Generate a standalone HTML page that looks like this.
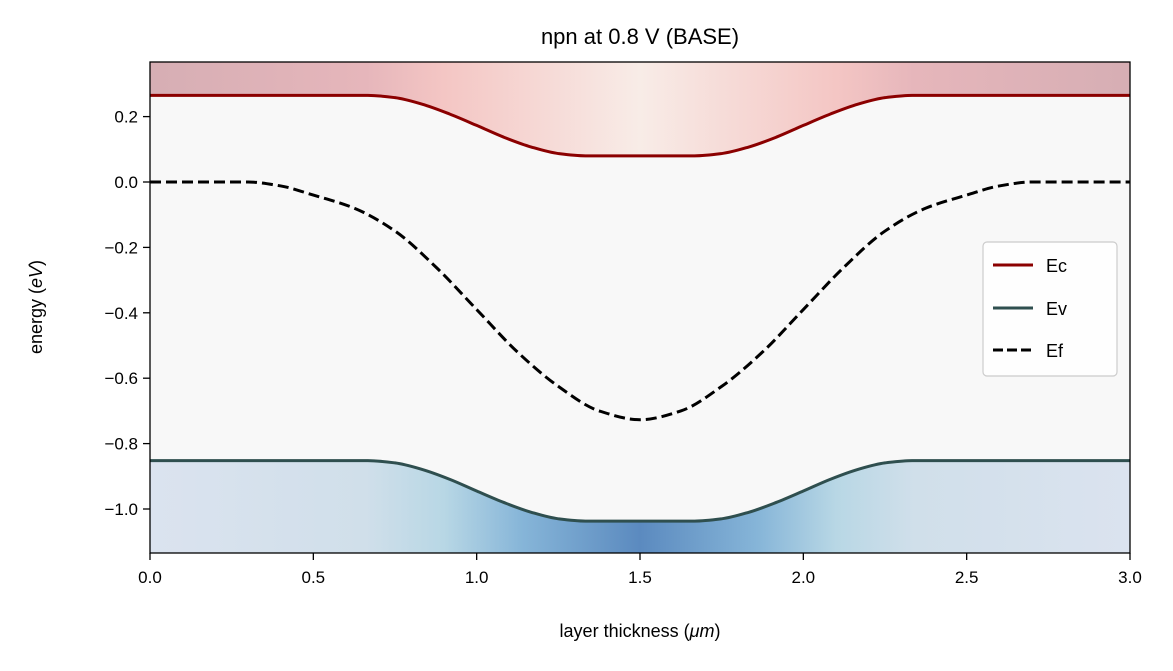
<!DOCTYPE html>
<html><head><meta charset="utf-8"><style>
body{margin:0;background:#fff;}
svg{font-family:"Liberation Sans","DejaVu Sans",sans-serif;}
</style></head><body>
<svg id="chart" width="1173" height="666" viewBox="0 0 1173 666">
<defs>
<linearGradient id="redg" x1="0" x2="1" y1="0" y2="0">
<stop offset="0" stop-color="#d6aeb4"/><stop offset="0.22" stop-color="#e6b6bb"/><stop offset="0.3" stop-color="#f4c6c4"/><stop offset="0.5" stop-color="#f8ece7"/><stop offset="0.7" stop-color="#f4c6c4"/><stop offset="0.78" stop-color="#e6b6bb"/><stop offset="1" stop-color="#d6aeb4"/>
</linearGradient>
<linearGradient id="blueg" x1="0" x2="1" y1="0" y2="0">
<stop offset="0" stop-color="#dbe3ef"/><stop offset="0.22" stop-color="#d0dfea"/><stop offset="0.3" stop-color="#b8d7e5"/><stop offset="0.38" stop-color="#86b5d8"/><stop offset="0.5" stop-color="#5b8abf"/><stop offset="0.62" stop-color="#86b5d8"/><stop offset="0.7" stop-color="#b8d7e5"/><stop offset="0.78" stop-color="#d0dfea"/><stop offset="1" stop-color="#dbe3ef"/>
</linearGradient>
<clipPath id="plotclip"><rect x="150" y="62" width="980" height="491"/></clipPath>
</defs>
<rect x="150" y="62" width="980" height="491" fill="#f8f8f8"/>
<g id="fills" clip-path="url(#plotclip)"></g>
<g id="lines" clip-path="url(#plotclip)"></g>
<rect x="150" y="62" width="980" height="491" fill="none" stroke="#000" stroke-width="1.3"/>
<g id="axes"></g>
<text x="640" y="44" text-anchor="middle" font-size="22">npn at 0.8 V (BASE)</text>
<text x="640" y="637" text-anchor="middle" font-size="18">layer thickness (<tspan font-style="italic">μm</tspan>)</text>
<text transform="translate(42,307) rotate(-90)" text-anchor="middle" font-size="18">energy (<tspan font-style="italic">eV</tspan>)</text>
<g>
<rect x="983" y="242" width="134" height="134" rx="4" fill="#fff" fill-opacity="0.85" stroke="#ccc" stroke-width="1.2"/>
<g><line x1="993" y1="265" x2="1033" y2="265" stroke="#8b0000" stroke-width="3"/><text x="1046" y="272" font-size="18">Ec</text></g>
<g><line x1="993" y1="308" x2="1033" y2="308" stroke="#2f4f4f" stroke-width="3"/><text x="1046" y="315" font-size="18">Ev</text></g>
<g><line x1="993" y1="350" x2="1033" y2="350" stroke="#000" stroke-width="3" stroke-dasharray="10,4"/><text x="1046" y="357" font-size="18">Ef</text></g>
</g>
</svg>
<script>
const bandX=[0,0.5,0.583,0.667,0.75,0.833,0.917,1.0,1.083,1.167,1.25,1.333,1.417,1.5,1.583,1.667,1.75,1.833,1.917,2.0,2.083,2.167,2.25,2.333,2.417,2.5,3.0];
const ecVals=[0.265,0.265,0.265,0.265,0.258,0.238,0.208,0.173,0.137,0.107,0.087,0.080,0.080,0.080,0.080,0.080,0.087,0.107,0.137,0.173,0.208,0.238,0.258,0.265,0.265,0.265,0.265];
const evVals=[-0.852,-0.852,-0.852,-0.852,-0.859,-0.879,-0.909,-0.945,-0.980,-1.010,-1.030,-1.037,-1.037,-1.037,-1.037,-1.037,-1.030,-1.010,-0.980,-0.945,-0.909,-0.879,-0.859,-0.852,-0.852,-0.852,-0.852];
const efX=[0,0.15,0.3,0.4,0.5,0.625,0.75,0.875,1.0,1.125,1.25,1.375,1.5,1.625,1.75,1.875,2.0,2.125,2.25,2.375,2.5,2.6,2.7,2.85,3.0];
const efVals=[0,0,0,-0.012,-0.04,-0.08,-0.15,-0.26,-0.39,-0.52,-0.625,-0.70,-0.727,-0.70,-0.625,-0.52,-0.39,-0.26,-0.15,-0.08,-0.04,-0.012,0,0,0];
const xTicks=[0,0.5,1.0,1.5,2.0,2.5,3.0];
const xTickLabels=["0.0","0.5","1.0","1.5","2.0","2.5","3.0"];
const yTicks=[0.2,0,-0.2,-0.4,-0.6,-0.8,-1.0];
const yTickLabels=["0.2","0.0","−0.2","−0.4","−0.6","−0.8","−1.0"];
const X0=150,X1=1130,XMIN=0,XMAX=3,Y0=182,YS=327,YTOP=62,YBOT=553;
const sx=v=>X0+(v-XMIN)/(XMAX-XMIN)*(X1-X0);
const sy=v=>Y0-v*YS;
const NS="http://www.w3.org/2000/svg";
function smoothPath(xs,ys){
  const p=xs.map((x,i)=>[sx(x),sy(ys[i])]);
  const n=p.length,m=[];
  for(let i=0;i<n;i++){
    if(i===0||i===n-1){m.push(0);continue;}
    const d0=(p[i][1]-p[i-1][1])/(p[i][0]-p[i-1][0]),d1=(p[i+1][1]-p[i][1])/(p[i+1][0]-p[i][0]);
    m.push(d0*d1<=0?0:2/(1/d0+1/d1));
  }
  let d="M"+p[0][0]+","+p[0][1];
  for(let i=0;i<n-1;i++){
    const h=(p[i+1][0]-p[i][0])/3;
    d+=" C"+(p[i][0]+h)+","+(p[i][1]+m[i]*h)+" "+(p[i+1][0]-h)+","+(p[i+1][1]-m[i+1]*h)+" "+p[i+1][0]+","+p[i+1][1];
  }
  return d;
}
const fills=document.getElementById('fills'),lines=document.getElementById('lines'),axes=document.getElementById('axes');
const ecD=smoothPath(bandX,ecVals),evD=smoothPath(bandX,evVals);
let f1=document.createElementNS(NS,'path');
f1.setAttribute('d',ecD+" L"+X1+","+(YTOP-5)+" L"+X0+","+(YTOP-5)+" Z");
f1.setAttribute('fill','url(#redg)');


fills.appendChild(f1);
let f2=document.createElementNS(NS,'path');
f2.setAttribute('d',evD+" L"+X1+","+(YBOT+5)+" L"+X0+","+(YBOT+5)+" Z");
f2.setAttribute('fill','url(#blueg)');


fills.appendChild(f2);
let l1=document.createElementNS(NS,'path');
l1.setAttribute('d',ecD);l1.setAttribute('fill','none');l1.setAttribute('stroke','#8b0000');l1.setAttribute('stroke-width','3');


lines.appendChild(l1);
let l2=document.createElementNS(NS,'path');
l2.setAttribute('d',evD);l2.setAttribute('fill','none');l2.setAttribute('stroke','#2f4f4f');l2.setAttribute('stroke-width','3');


lines.appendChild(l2);
let l3=document.createElementNS(NS,'path');
l3.setAttribute('d',smoothPath(efX,efVals));l3.setAttribute('fill','none');l3.setAttribute('stroke','#000');l3.setAttribute('stroke-width','3');l3.setAttribute('stroke-dasharray','11,5');


lines.appendChild(l3);
xTicks.forEach((v,i)=>{
  const t=document.createElementNS(NS,'line');
  t.setAttribute('x1',sx(v));t.setAttribute('x2',sx(v));t.setAttribute('y1',YBOT);t.setAttribute('y2',YBOT+7);t.setAttribute('stroke','#000');t.setAttribute('stroke-width','1.3');
  
  
  axes.appendChild(t);
  const tx=document.createElementNS(NS,'text');
  tx.setAttribute('x',sx(v));tx.setAttribute('y',YBOT+30);tx.setAttribute('text-anchor','middle');tx.setAttribute('font-size','17');
  tx.textContent=xTickLabels[i];
  
  
  axes.appendChild(tx);
});
yTicks.forEach((v,i)=>{
  const t=document.createElementNS(NS,'line');
  t.setAttribute('x1',X0-7);t.setAttribute('x2',X0);t.setAttribute('y1',sy(v));t.setAttribute('y2',sy(v));t.setAttribute('stroke','#000');t.setAttribute('stroke-width','1.3');
  
  
  axes.appendChild(t);
  const tx=document.createElementNS(NS,'text');
  tx.setAttribute('x',X0-12);tx.setAttribute('y',sy(v)+6);tx.setAttribute('text-anchor','end');tx.setAttribute('font-size','17');
  tx.textContent=yTickLabels[i];
  
  
  axes.appendChild(tx);
});
</script>
</body></html>
